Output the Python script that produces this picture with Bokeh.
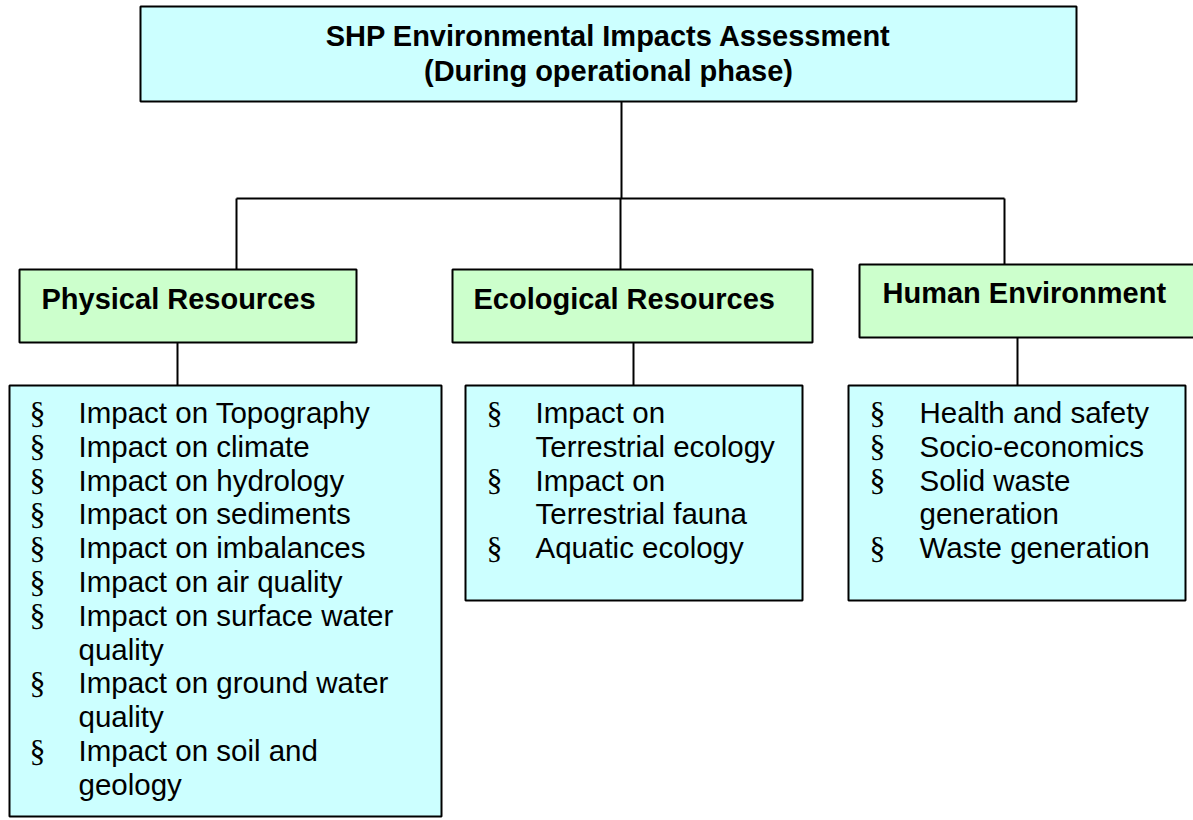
from bokeh.plotting import figure
from bokeh.models import Range1d
from bokeh.core.properties import value
from bokeh.embed import file_html
from bokeh.resources import INLINE

# ---------------- data ----------------
title_lines = ["SHP Environmental Impacts Assessment", "(During operational phase)"]
categories = ["Physical Resources", "Ecological Resources", "Human Environment"]
physical_items = [
    ["Impact on Topography"],
    ["Impact on climate"],
    ["Impact on hydrology"],
    ["Impact on sediments"],
    ["Impact on imbalances"],
    ["Impact on air quality"],
    ["Impact on surface water", "quality"],
    ["Impact on ground water", "quality"],
    ["Impact on soil and", "geology"],
]
ecological_items = [
    ["Impact on", "Terrestrial ecology"],
    ["Impact on", "Terrestrial fauna"],
    ["Aquatic ecology"],
]
human_items = [
    ["Health and safety"],
    ["Socio-economics"],
    ["Solid waste", "generation"],
    ["Waste generation"],
]
bullet_char = "\u00a7"

# ---------------- layout ----------------
W, H = 1193, 820
FONT = value("Liberation Sans")
CYAN = "#CCFFFF"
GREEN = "#CCFFCC"

p = figure(width=W, height=H, output_backend="svg", toolbar_location=None,
           x_range=Range1d(0, W), y_range=Range1d(H, 0),
           min_border=0, outline_line_color=None, background_fill_color="white",
           border_fill_color="white")
p.axis.visible = False
p.xgrid.visible = False
p.ygrid.visible = False

# connectors
seg_x0 = [621, 236, 236, 620, 1004, 177, 633, 1017]
seg_y0 = [101, 198, 198, 198, 198, 342, 342, 337]
seg_x1 = [621, 1004, 236, 620, 1004, 177, 633, 1017]
seg_y1 = [198, 198, 269, 269, 264, 385, 385, 385]
p.segment(seg_x0, seg_y0, seg_x1, seg_y1, line_color="black", line_width=2)

# boxes
box_l = [140, 19, 452, 859, 9, 465, 848]
box_r = [1076, 356, 812, 1215, 441, 802, 1185]
box_t = [6, 269, 269, 264, 385, 385, 385]
box_b = [101, 342, 342, 337, 816, 600, 600]
box_c = [CYAN, GREEN, GREEN, GREEN, CYAN, CYAN, CYAN]
p.quad(left=box_l, right=box_r, top=box_t, bottom=box_b, fill_color=box_c,
       line_color="black", line_width=2)

# title
p.text(x=[608, 608], y=[35, 70], text=title_lines, text_font=FONT,
       text_font_size="29px", text_font_style="bold", text_align="center",
       text_baseline="alphabetic", text_color="black")

# category labels
p.text(x=[41, 473, 882], y=[298, 298, 292], text=categories, text_font=FONT,
       text_font_size="29px", text_font_style="bold", text_align="left",
       text_baseline="alphabetic", text_color="black")

# lists
lists = [(physical_items, 29, 78, 412), (ecological_items, 486, 535, 412),
         (human_items, 869, 919, 412)]
STEP = 33.8
bx, by, tx, ty, tt = [], [], [], [], []
for items, bxx, txx, y0 in lists:
    row = 0
    for item in items:
        bx.append(bxx)
        by.append(y0 + row * STEP)
        for line in item:
            tx.append(txx)
            ty.append(y0 + row * STEP)
            tt.append(line)
            row += 1

p.text(x=bx, y=by, text=[bullet_char] * len(bx), text_font=value("Liberation Serif"),
       text_font_size="32px", text_align="left", text_baseline="alphabetic",
       text_color="black")
p.text(x=tx, y=ty, text=tt, text_font=FONT, text_font_size="29.5px",
       text_align="left", text_baseline="alphabetic", text_color="black")

open("out.html", "w").write(file_html(p, INLINE))
